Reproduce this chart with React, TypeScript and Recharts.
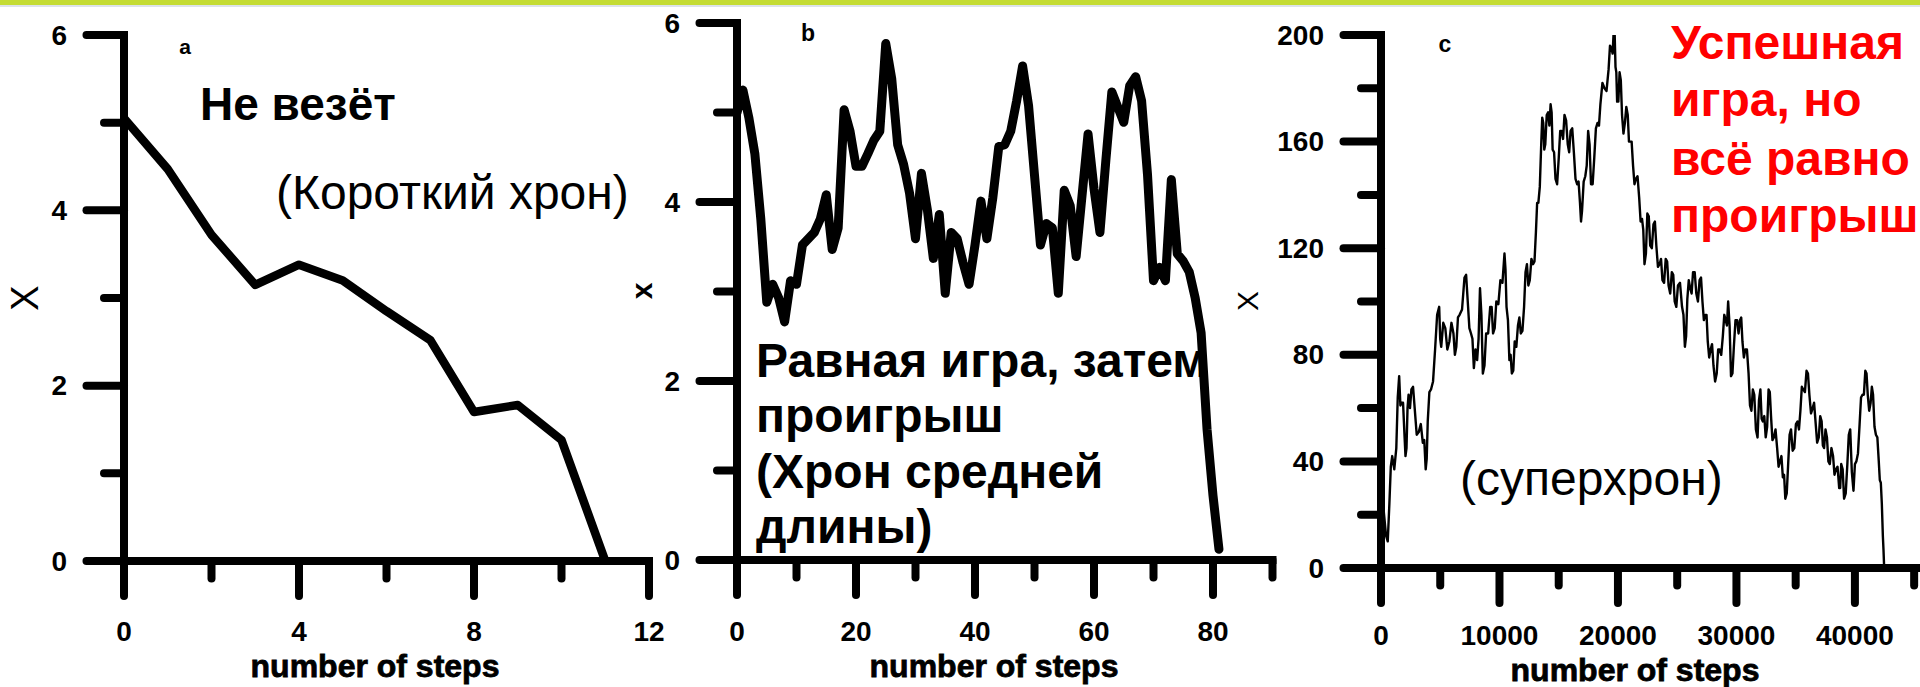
import React from 'react';
import { LineChart, Line, XAxis, YAxis } from 'recharts';

const FONT = '"Liberation Sans", Arial, Helvetica, sans-serif';

// ---------- Panel a ----------
const stepsA = [0, 1, 2, 3, 4, 5, 6, 7, 8, 9, 10, 11];
const valuesA = [5.05, 4.47, 3.72, 3.15, 3.38, 3.2, 2.85, 2.52, 1.7, 1.78, 1.38, 0];
const xTicksA = [0, 2, 4, 6, 8, 10, 12];
const xMajorA = [0, 4, 8, 12];
const yTicksA = [0, 1, 2, 3, 4, 5, 6];
const yMajorA = [0, 2, 4, 6];

// ---------- Panel b ----------
const valuesB = [5.0, 5.25, 4.94, 4.54, 3.81, 2.88, 3.08, 2.93, 2.66, 3.12, 3.08, 3.52, 3.59, 3.66, 3.81, 4.08, 3.47, 3.71, 5.03, 4.79, 4.4, 4.4, 4.54, 4.69, 4.79, 5.77, 5.38, 4.64, 4.42, 4.1, 3.59, 4.32, 3.91, 3.37, 3.86, 2.98, 3.66, 3.59, 3.32, 3.08, 3.52, 4.01, 3.59, 4.05, 4.62, 4.64, 4.79, 5.13, 5.52, 5.08, 4.3, 3.52, 3.76, 3.71, 2.98, 4.13, 3.96, 3.39, 4.08, 4.76, 4.15, 3.66, 4.47, 5.23, 5.06, 4.89, 5.3, 5.4, 5.13, 4.3, 3.12, 3.27, 3.12, 4.25, 3.42, 3.34, 3.22, 2.93, 2.54, 1.46, 0.72, 0.12];
const xTicksB = [0, 10, 20, 30, 40, 50, 60, 70, 80, 90];
const xMajorB = [0, 20, 40, 60, 80];
const yTicksB = [0, 1, 2, 3, 4, 5, 6];
const yMajorB = [0, 2, 4, 6];

// ---------- Panel c ----------
// main turning points
const stepsC = [0, 431, 706, 947, 1292, 1533, 1740, 1981, 2153, 2325, 2567, 2842, 3187, 3531, 3773, 3945, 4221, 4565, 4910, 5082, 5427, 5771, 6116, 6357, 6633, 7046, 7322, 7597, 7838, 8114, 8355, 8596, 8872, 9217, 9458, 9733, 10078, 10422, 10594, 10836, 11043, 11284, 11559, 11800, 12076, 12317, 12558, 12834, 13075, 13282, 13523, 13695, 13867, 14108, 14315, 14487, 14728, 15004, 15245, 15486, 15762, 16003, 16279, 16554, 16795, 16968, 17243, 17484, 17725, 18001, 18277, 18518, 18862, 19207, 19448, 19655, 19793, 19930, 20137, 20344, 20585, 20826, 21033, 21274, 21515, 21791, 22032, 22239, 22480, 22721, 22997, 23238, 23514, 23755, 24031, 24272, 24547, 24788, 25064, 25408, 25650, 25856, 26097, 26338, 26614, 26890, 27131, 27372, 27579, 27820, 28061, 28336, 28578, 28853, 29094, 29301, 29542, 29783, 30059, 30300, 30507, 30748, 31024, 31265, 31506, 31782, 32023, 32230, 32471, 32712, 32919, 33160, 33436, 33677, 33918, 34125, 34366, 34607, 34883, 35158, 35399, 35641, 35916, 36157, 36433, 36674, 36950, 37191, 37398, 37639, 37880, 38156, 38397, 38673, 38845, 39086, 39362, 39603, 39879, 40120, 40396, 40637, 40878, 41084, 41326, 41532, 41773, 42014, 42187, 42359, 42462];
const valuesC = [17, 12, 24, 42, 45, 72, 62, 50, 45, 65, 67, 60, 51, 47, 37, 55, 67, 82, 98, 83, 90, 85, 88, 83, 95, 109, 100, 88, 75, 78, 105, 73, 88, 98, 88, 100, 108, 118, 98, 78, 73, 85, 91, 88, 98, 114, 108, 114, 126, 137, 159, 167, 159, 171, 174, 157, 146, 154, 164, 170, 159, 164, 156, 144, 137, 134, 147, 164, 144, 154, 167, 174, 180, 187, 195, 203, 188, 175, 186, 170, 167, 170, 160, 151, 146, 139, 131, 114, 133, 121, 129, 121, 114, 108, 116, 106, 111, 100, 106, 98, 83, 101, 105, 111, 103, 108, 100, 95, 85, 82, 76, 73, 82, 87, 93, 100, 72, 83, 93, 93, 85, 82, 73, 59, 65, 49, 67, 55, 49, 67, 57, 49, 45, 40, 34, 26, 39, 52, 45, 55, 59, 67, 74, 65, 60, 55, 49, 55, 45, 49, 39, 42, 37, 30, 39, 26, 39, 52, 29, 40, 54, 65, 74, 65, 62, 65, 50, 40, 32, 12, 1];
// small in-between spikes of the noisy walk
const hairStepsC = [216, 569, 827, 1120, 1413, 1637, 1861, 2067, 2239, 2446, 2705, 3015, 3359, 3652, 3859, 4083, 4393, 4738, 4996, 5255, 5599, 5944, 6237, 6495, 6840, 7184, 7460, 7718, 7976, 8235, 8476, 8734, 9045, 9338, 9596, 9906, 10250, 10508, 10715, 10940, 11164, 11422, 11680, 11938, 12197, 12438, 12696, 12955, 13179, 13403, 13609, 13781, 13988, 14212, 14401, 14608, 14866, 15125, 15366, 15624, 15883, 16141, 16417, 16675, 16882, 17106, 17364, 17605, 17863, 18139, 18398, 18690, 19035, 19328, 19552, 19724, 19862, 20034, 20241, 20465, 20706, 20930, 21154, 21395, 21653, 21912, 22136, 22360, 22601, 22859, 23118, 23376, 23635, 23893, 24152, 24410, 24668, 24926, 25236, 25529, 25753, 25977, 26218, 26476, 26752, 27011, 27252, 27476, 27700, 27941, 28199, 28457, 28716, 28974, 29198, 29422, 29663, 29921, 30180, 30404, 30628, 30886, 31145, 31386, 31644, 31903, 32127, 32351, 32592, 32816, 33040, 33298, 33557, 33798, 34022, 34246, 34487, 34745, 35021, 35279, 35520, 35779, 36037, 36295, 36554, 36812, 37071, 37295, 37519, 37760, 38018, 38277, 38535, 38759, 38966, 39224, 39483, 39741, 40000, 40258, 40517, 40758, 40981, 41205, 41429, 41653, 41894, 42101, 42273, 42411];
const hairValuesC = [22, 10, 38, 37, 64, 61, 62, 42, 60, 60, 68, 50, 54, 48, 41, 66, 70, 95, 86, 92, 82, 92, 80, 94, 97, 110, 90, 86, 82, 86, 95, 76, 88, 98, 90, 99, 107, 112, 93, 80, 74, 83, 94, 89, 111, 106, 116, 115, 137, 143, 169, 157, 170, 166, 171, 156, 144, 164, 161, 168, 156, 165, 146, 145, 130, 145, 151, 159, 144, 165, 166, 182, 179, 196, 193, 200, 186, 175, 183, 163, 173, 160, 160, 144, 147, 130, 127, 118, 132, 120, 130, 113, 116, 107, 115, 103, 110, 98, 107, 95, 87, 108, 103, 111, 100, 109, 93, 95, 79, 84, 70, 82, 80, 95, 91, 91, 73, 93, 88, 94, 79, 82, 61, 67, 52, 63, 56, 57, 53, 66, 48, 52, 38, 42, 35, 28, 50, 44, 54, 52, 68, 66, 73, 58, 62, 47, 57, 46, 52, 40, 45, 35, 38, 30, 37, 28, 50, 36, 39, 43, 64, 65, 73, 59, 68, 53, 49, 33, 24, 7];
const xTicksC = [0, 5000, 10000, 15000, 20000, 25000, 30000, 35000, 40000, 45000];
const xMajorC = [0, 10000, 20000, 30000, 40000];
const yTicksC = [0, 20, 40, 60, 80, 100, 120, 140, 160, 180, 200];
const yMajorC = [0, 40, 80, 120, 160, 200];

const dataA = stepsA.map((s, i) => ({ x: s, v: valuesA[i] }));
const dataB = valuesB.map((v, i) => ({ x: i, v }));
const dataC = [
  ...stepsC.map((s, i) => ({ x: s, v: valuesC[i] })),
  ...hairStepsC.map((s, i) => ({ x: s, v: hairValuesC[i] })),
].sort((a, b) => a.x - b.x);

const AX_W = 8;
const TICK_FS = 28;

function makeXTick(majors: number[], majorLen: number, minorLen: number, labelDy: number) {
  return (props: any) => {
    const { x, y, payload } = props;
    const v = payload.value;
    const major = majors.includes(v);
    return (
      <g>
        <line x1={x} y1={y} x2={x} y2={y + (major ? majorLen : minorLen)} stroke="#000" strokeWidth={AX_W} strokeLinecap="round" />
        {major && (
          <text x={x} y={y + labelDy} textAnchor="middle" dominantBaseline="central" fontFamily={FONT} fontWeight="bold" fontSize={TICK_FS} fill="#000">
            {v}
          </text>
        )}
      </g>
    );
  };
}

function makeYTick(majors: number[], majorLen: number, minorLen: number, labelDx: number) {
  return (props: any) => {
    const { x, y, payload } = props;
    const v = payload.value;
    const major = majors.includes(v);
    return (
      <g>
        <line x1={x} y1={y} x2={x - (major ? majorLen : minorLen)} y2={y} stroke="#000" strokeWidth={AX_W} strokeLinecap="round" />
        {major && (
          <text x={x - labelDx} y={y} textAnchor="end" dominantBaseline="central" fontFamily={FONT} fontWeight="bold" fontSize={TICK_FS} fill="#000">
            {v}
          </text>
        )}
      </g>
    );
  };
}

const axisLineStyle = { stroke: '#000', strokeWidth: AX_W, strokeLinecap: 'square' as const };

function Panel(props: {
  left: number; width: number; top: number; yAxisW: number; xAxisH: number; rightM: number;
  data: any[]; xDomain: [number, number]; xTicks: number[]; xMajor: number[];
  yDomain: [number, number]; yTicks: number[]; yMajor: number[]; lineW: number; labelDy: number;
}) {
  const p = props;
  return (
    <div style={{ position: 'absolute', left: p.left, top: 0 }}>
      <LineChart width={p.width} height={687} data={p.data} margin={{ top: p.top, right: p.rightM, bottom: 0, left: 0 }}>
        <XAxis
          type="number"
          dataKey="x"
          domain={p.xDomain}
          ticks={p.xTicks}
          interval={0}
          height={p.xAxisH}
          tickSize={0}
          tickMargin={0}
          tickLine={false}
          axisLine={axisLineStyle}
          tick={makeXTick(p.xMajor, 35, 17.5, p.labelDy)}
          allowDataOverflow
        />
        <YAxis
          type="number"
          domain={p.yDomain}
          ticks={p.yTicks}
          interval={0}
          width={p.yAxisW}
          tickSize={0}
          tickMargin={0}
          tickLine={false}
          axisLine={axisLineStyle}
          tick={makeYTick(p.yMajor, 37.5, 20, 57)}
          allowDataOverflow
        />
        <Line
          type="linear"
          dataKey="v"
          stroke="#000"
          strokeWidth={p.lineW}
          strokeLinejoin="round"
          strokeLinecap="round"
          dot={false}
          activeDot={false}
          isAnimationActive={false}
        />
      </LineChart>
    </div>
  );
}

const bold = { fontFamily: FONT, fontWeight: 'bold' as const };

export default function App() {
  return (
    <div style={{ position: 'absolute', left: 0, top: 0, width: 1920, height: 687, background: '#fff', overflow: 'hidden' }}>
      <div style={{ position: 'absolute', left: 0, top: 0, width: 1920, height: 5, background: '#c4dc34' }} />
      <div style={{ position: 'absolute', left: 0, top: 5, width: 1920, height: 2, background: '#dde3ea' }} />

      <Panel left={0} width={690} top={35} yAxisW={124} xAxisH={126} rightM={41}
        data={dataA} xDomain={[0, 12]} xTicks={xTicksA} xMajor={xMajorA}
        yDomain={[0, 6]} yTicks={yTicksA} yMajor={yMajorA} lineW={8.5} labelDy={70} />

      <Panel left={640} width={650} top={23} yAxisW={97} xAxisH={127} rightM={17.5}
        data={dataB} xDomain={[0, 90]} xTicks={xTicksB} xMajor={xMajorB}
        yDomain={[0, 6]} yTicks={yTicksB} yMajor={yMajorB} lineW={9} labelDy={71} />

      <Panel left={1240} width={686} top={35} yAxisW={141} xAxisH={119} rightM={0}
        data={dataC} xDomain={[0, 46000]} xTicks={xTicksC} xMajor={xMajorC}
        yDomain={[0, 200]} yTicks={yTicksC} yMajor={yMajorC} lineW={2.4} labelDy={67} />

      <svg width={1920} height={687} style={{ position: 'absolute', left: 0, top: 0, pointerEvents: 'none' }}>
        {/* axis titles */}
        <text x={375} y={677} textAnchor="middle" fontSize={32} stroke="#000" strokeWidth={0.8} {...bold}>number of steps</text>
        <text x={994} y={677} textAnchor="middle" fontSize={32} stroke="#000" strokeWidth={0.8} {...bold}>number of steps</text>
        <text x={1635} y={681} textAnchor="middle" fontSize={32} stroke="#000" strokeWidth={0.8} {...bold}>number of steps</text>
        <text transform="translate(25,298) rotate(-90)" textAnchor="middle" dominantBaseline="central" fontSize={38} fontFamily={FONT}>X</text>
        <text transform="translate(641,291) rotate(-90)" textAnchor="middle" dominantBaseline="central" fontSize={30} {...bold}>x</text>
        <text transform="translate(1247,301) rotate(-90)" textAnchor="middle" dominantBaseline="central" fontSize={30} fontFamily={FONT}>X</text>
        {/* panel letters */}
        <text x={185} y={46} textAnchor="middle" dominantBaseline="central" fontSize={21} {...bold}>a</text>
        <text x={808} y={33} textAnchor="middle" dominantBaseline="central" fontSize={23} {...bold}>b</text>
        <text x={1445} y={44} textAnchor="middle" dominantBaseline="central" fontSize={23} {...bold}>c</text>
        {/* annotations */}
        <text x={200} y={120} fontSize={46} {...bold}>Не везёт</text>
        <text x={276} y={209} fontSize={48} fontFamily={FONT}>(Короткий хрон)</text>
        <text fontSize={48} {...bold}>
          <tspan x={756} y={377}>Равная игра, затем</tspan>
          <tspan x={756} y={432}>проигрыш</tspan>
          <tspan x={756} y={488}>(Хрон средней</tspan>
          <tspan x={756} y={543}>длины)</tspan>
        </text>
        <text x={1460} y={495} fontSize={48} fontFamily={FONT}>(суперхрон)</text>
        <text fontSize={48} {...bold} fill="#ff0000">
          <tspan x={1671} y={59}>Успешная</tspan>
          <tspan x={1671} y={116}>игра, но</tspan>
          <tspan x={1671} y={175}>всё равно</tspan>
          <tspan x={1671} y={232}>проигрыш</tspan>
        </text>
      </svg>
    </div>
  );
}
